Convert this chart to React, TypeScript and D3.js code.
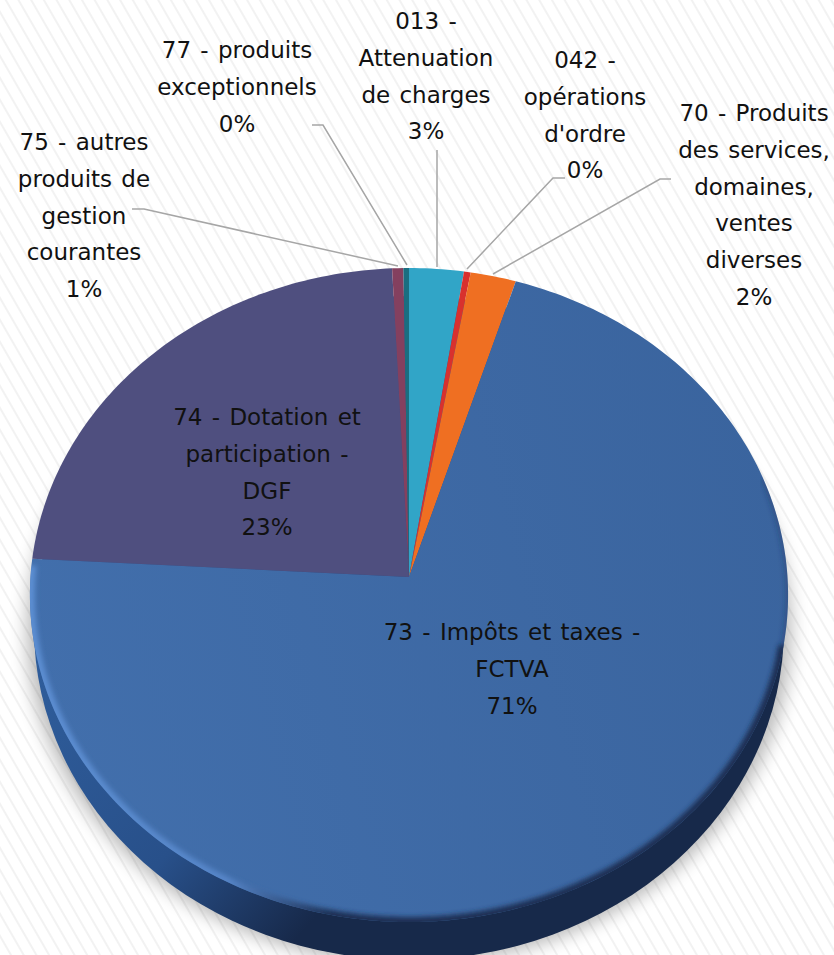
import React from "react";
import * as d3 from "d3";

const categories = [
  "013 - Attenuation de charges",
  "042 - opérations d'ordre",
  "70 - Produits des services, domaines, ventes diverses",
  "73 - Impôts et taxes - FCTVA",
  "74 - Dotation et participation - DGF",
  "75 - autres produits de gestion courantes",
  "77 - produits exceptionnels",
];
const sliceValues = [2.45, 0.3, 2.05, 71.1, 23.35, 0.5, 0.25];
const sliceColors = ["#31a5c7", "#d8312e", "#ef6f22", "url(#g73)", "#4f4f7f", "#84405f", "#1a6e80"];

const labelLines = [
  ["013 -", "Attenuation", "de charges", "3%"],
  ["042 -", "opérations", "d'ordre", "0%"],
  ["70 - Produits", "des services,", "domaines,", "ventes", "diverses", "2%"],
  ["73 - Impôts et taxes -", "FCTVA", "71%"],
  ["74 - Dotation et", "participation -", "DGF", "23%"],
  ["75 - autres", "produits de", "gestion", "courantes", "1%"],
  ["77 - produits", "exceptionnels", "0%"],
];
const labelX = [426, 585, 754, 512, 267, 84, 237];
const labelFirstY = [21, 60, 113, 632, 417, 142, 50];
const lineStep = 36.8;

const leaders: [number, number][][] = [
  [[437, 150], [437, 267]],
  [[565, 178], [553, 178], [467, 269]],
  [[671, 179], [660, 179], [493, 274]],
  [],
  [],
  [[132, 209], [144, 209], [398, 266]],
  [[312, 125], [323, 125], [407, 265]],
];

const W = 834, H = 955;
const apex = { x: 409, y: 577 };
const persp = 0.0551, reachX = 378.5, reachY = 326;

// Perspective view of the round pie top
const project = (a: number, r = 1): [number, number] => {
  const X = r * Math.sin(a), Y = r * Math.cos(a);
  const w = 1 + persp * Y;
  return [apex.x + (reachX * X) / w, apex.y - (reachY * Y) / w];
};
const line = d3.line<[number, number]>().x((d) => d[0]).y((d) => d[1]);
const arcPts = (a0: number, a1: number): [number, number][] =>
  d3.range(0, 1.0001, 1 / Math.max(2, Math.ceil(Math.abs(a1 - a0) * 60))).map((t) => project(a0 + (a1 - a0) * t));

const pie = d3.pie<number>().sort(null).value((d) => d).startAngle(0).endAngle(2 * Math.PI);
const arcs = pie(sliceValues);
const topFace = line(arcPts(0, 2 * Math.PI))! + "Z";

const rad = (d: number) => (d * Math.PI) / 180;

export default function App() {
  return (
    <svg width={W} height={H} viewBox={`0 0 ${W} ${H}`} style={{ position: "absolute", left: 0, top: 0, display: "block" }}>
      <defs>
        <pattern id="hatch" width="11" height="22" patternUnits="userSpaceOnUse" patternTransform="rotate(-30)">
          <rect width="11" height="22" fill="#fff" />
          <line x1="5" x2="5" y1="0" y2="22" stroke="#e6e6e6" strokeWidth="1" />
        </pattern>
        <linearGradient id="g73" gradientUnits="userSpaceOnUse" x1="30" y1="700" x2="788" y2="500">
          <stop offset="0" stopColor="#426fac" />
          <stop offset="1" stopColor="#3a649e" />
        </linearGradient>
        <linearGradient id="side" gradientUnits="userSpaceOnUse" x1="40" y1="650" x2="330" y2="900">
          <stop offset="0" stopColor="#2f5d9b" />
          <stop offset="0.6" stopColor="#28508a" />
          <stop offset="1" stopColor="#17294a" />
        </linearGradient>
        <linearGradient id="rim" gradientUnits="userSpaceOnUse" x1="30" y1="0" x2="788" y2="0">
          <stop offset="0" stopColor="#5c8ed2" />
          <stop offset="0.26" stopColor="#5685c8" />
          <stop offset="0.4" stopColor="#1a2e52" />
          <stop offset="1" stopColor="#1a2e52" />
        </linearGradient>
        <clipPath id="faceClip"><path d={topFace} /></clipPath>
        <filter id="blur1" x="-10%" y="-10%" width="120%" height="120%"><feGaussianBlur stdDeviation="2.5" /></filter>
        <filter id="blur2" x="-10%" y="-10%" width="120%" height="120%"><feGaussianBlur stdDeviation="9" /></filter>
      </defs>
      <rect width={W} height={H} fill="url(#hatch)" />
      <ellipse cx={409} cy={630} rx={382} ry={334} fill="#000" opacity={0.28} filter="url(#blur2)" />
      <ellipse cx={409} cy={628} rx={375} ry={332} fill="url(#side)" />
      {arcs.map((a, i) => (
        <path
          key={categories[i]}
          d={line([[apex.x, apex.y], ...arcPts(a.startAngle, a.endAngle)])! + "Z"}
          fill={sliceColors[i]}
        />
      ))}
      <g clipPath="url(#faceClip)">
        <path d={line(arcPts(rad(72), rad(104)))!} fill="none" stroke="#1a2e52" strokeOpacity={0.3} strokeWidth={6} filter="url(#blur1)" />
        <path d={line(arcPts(rad(102), rad(272)))!} fill="none" stroke="url(#rim)" strokeWidth={10} filter="url(#blur1)" />
      </g>
      {leaders.map((pts, i) =>
        pts.length ? <path key={i} d={line(pts)!} fill="none" stroke="#a6a6a6" strokeWidth={1.5} /> : null
      )}
      <g fontFamily="'DejaVu Sans', sans-serif" fontSize={23} wordSpacing={2} fill="#111" textAnchor="middle">
        {labelLines.map((lines, i) => (
          <text key={i}>
            {lines.map((t, j) => (
              <tspan key={j} x={labelX[i]} y={labelFirstY[i] + j * lineStep} dominantBaseline="central">{t}</tspan>
            ))}
          </text>
        ))}
      </g>
    </svg>
  );
}
